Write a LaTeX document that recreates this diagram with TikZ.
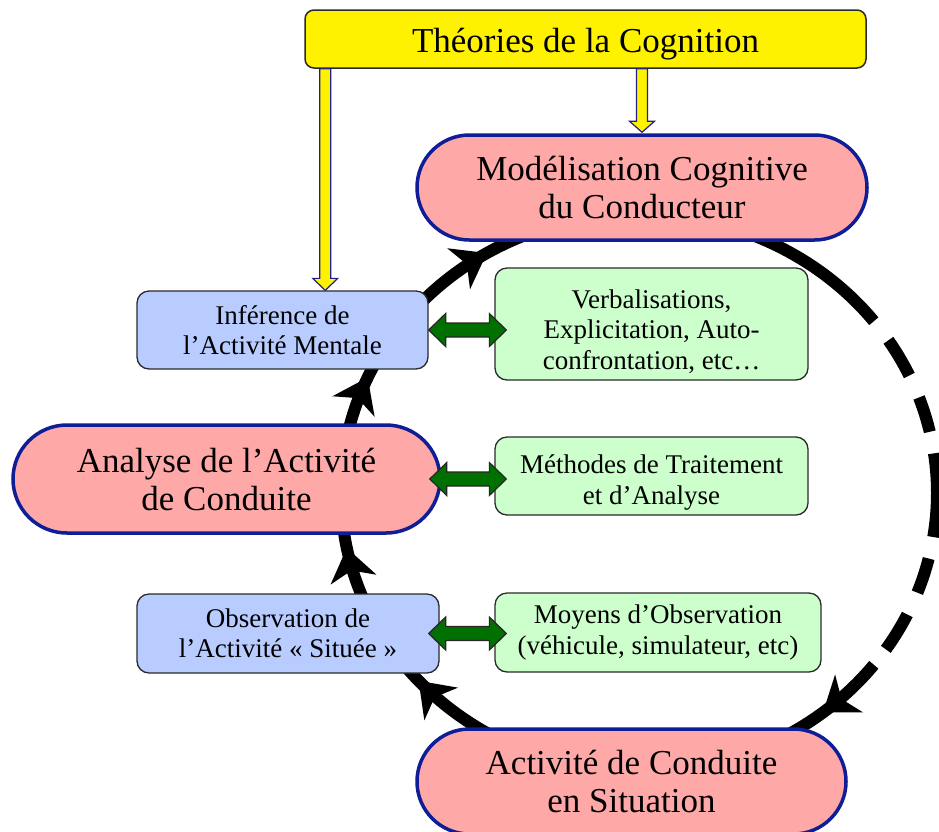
\documentclass[tikz,border=0pt]{standalone}
\usepackage{fontspec}
\setmainfont{Liberation Serif}
\usetikzlibrary{shapes.misc,arrows.meta,decorations.markings,calc}
\definecolor{pillfill}{HTML}{FFA8A8}
\definecolor{pillline}{HTML}{0F1E96}
\definecolor{bluefill}{HTML}{B8CCFF}
\definecolor{greenfill}{HTML}{CCFFCC}
\definecolor{boxline}{HTML}{2A2A2A}
\definecolor{darkgreen}{HTML}{007000}
\definecolor{yarrline}{HTML}{20208A}
\newcommand\greenlinkpath[3]{%
  \draw[garr] let \p1=(#1), \p2=(#2) in
    (\x1,\y1) -- (\x1+17pt,\y1+16.5pt) -- (\x1+17pt,\y1+7pt) --
    (\x2+#3-17pt,\y1+7pt) -- (\x2+#3-17pt,\y1+16.5pt) -- (\x2+#3,\y1) --
    (\x2+#3-17pt,\y1-16.5pt) -- (\x2+#3-17pt,\y1-7pt) --
    (\x1+17pt,\y1-7pt) -- (\x1+17pt,\y1-16.5pt) -- cycle;}
\begin{document}
\begin{tikzpicture}[x=1pt,y=1pt,
  bigtext/.style={font=\fontsize{35}{38}\selectfont},
  smalltext/.style={font=\fontsize{27}{30.5}\selectfont},
  pill/.style={rounded rectangle, draw=pillline, line width=3.5pt, fill=pillfill,
    align=center, inner sep=0pt, bigtext},
  bluebox/.style={rectangle, rounded corners=12pt, draw=boxline, line width=1.3pt,
    fill=bluefill, align=center, inner sep=0pt, smalltext},
  greenbox/.style={rectangle, rounded corners=12pt, draw=boxline, line width=1.3pt,
    fill=greenfill, align=center, inner sep=0pt, smalltext},
  theobox/.style={rectangle, rounded corners=9pt, draw=boxline, line width=1.5pt,
    fill=yellow, inner sep=0pt, bigtext, text height=30pt, text depth=4pt},
  cycleline/.style={line width=12pt, draw=black},
  yarr/.style={fill=yellow, draw=yarrline, line width=1.2pt, line join=miter},
  garr/.style={fill=darkgreen, draw=black!85, line width=1.2pt, line join=miter},
  cyctip/.tip={Stealth[length=32pt,width=46pt,inset=9pt]}
]
\useasboundingbox (0,0) rectangle (939,-831);
\fill[white] (0,0) rectangle (939,-831);

% cycle
\coordinate (cyc) at (639,-493);
\draw[cycleline, postaction={decorate}, decoration={markings,
    mark=at position 245pt with {\arrow{cyctip}},
    mark=at position 398pt with {\arrow{cyctip}},
    mark=at position 573pt with {\arrow{cyctip}},
    mark=at position 748pt with {\arrow{cyctip}}}]
  (cyc) ++(270:298 and 279) arc[start angle=270, end angle=90, x radius=298, y radius=279];
\draw[cycleline] (cyc) ++(90:298 and 279) arc[start angle=90, end angle=38, x radius=298, y radius=279];
\draw[cycleline, dash pattern=on 0pt off 24pt on 41pt off 24pt on 36pt off 22pt on 84pt off 22pt on 36pt off 24pt on 41pt off 24pt]
  (cyc) ++(38:298 and 279) arc[start angle=38, end angle=-38, x radius=298, y radius=279];
\draw[cycleline, postaction={decorate}, decoration={markings,
    mark=at position 70pt with {\arrow{cyctip}}}]
  (cyc) ++(-38:298 and 279) arc[start angle=-38, end angle=-90, x radius=298, y radius=279];

% nodes
\node[theobox, minimum width=561pt, minimum height=58pt] (theo) at (585.5,-39) {Théories de la Cognition};
\node[pill, minimum width=450pt, minimum height=105pt] (mod) at (642,-187.5) {Modélisation Cognitive\\du Conducteur};
\node[pill, minimum width=427pt, minimum height=108pt] (ana) at (226.5,-479) {Analyse de l’Activité\\de Conduite};
\node[pill, minimum width=429pt, minimum height=105pt] (act) at (631.5,-781.5) {Activité de Conduite\\en Situation};
\node[bluebox, minimum width=291pt, minimum height=78pt] (inf) at (282.5,-330) {Inférence de\\l’Activité Mentale};
\node[bluebox, minimum width=302pt, minimum height=79pt] (obs) at (288,-633.5) {Observation de\\l’Activité « Située »};
\node[greenbox, minimum width=313pt, minimum height=112pt] (verb) at (651.5,-324) {\rule{0pt}{34pt}Verbalisations,\\Explicitation, Auto-\\confrontation, etc…};
\node[greenbox, minimum width=313pt, minimum height=78pt] (meth) at (651.5,-476) {\rule{0pt}{32pt}Méthodes de Traitement\\et d’Analyse};
\node[greenbox, minimum width=326pt, minimum height=79pt] (moy) at (658,-632.5) {Moyens d’Observation\\(véhicule, simulateur, etc)};

% yellow arrows
\draw[yarr] let \p1=(theo.south west), \p2=(inf.north) in
  (\x1+15.5pt,\y1) -- (\x1+15.5pt,\y2+12pt) -- (\x1+8.5pt,\y2+12pt) -- (\x1+21pt,\y2) --
  (\x1+33.5pt,\y2+12pt) -- (\x1+26.5pt,\y2+12pt) -- (\x1+26.5pt,\y1) -- cycle;
\draw[yarr] let \p1=(theo.south), \p2=(mod.north) in
  (\x2-5.5pt,\y1) -- (\x2-5.5pt,\y2+12pt) -- (\x2-12.5pt,\y2+12pt) -- (\x2,\y2+1pt) --
  (\x2+12.5pt,\y2+12pt) -- (\x2+5.5pt,\y2+12pt) -- (\x2+5.5pt,\y1) -- cycle;

% green double arrows
\greenlinkpath{inf.east}{verb.west}{12pt}
\greenlinkpath{$(ana.east)+(-12pt,0)$}{meth.west}{12pt}
\greenlinkpath{$(obs.east)+(-11pt,0)$}{moy.west}{12pt}
\end{tikzpicture}
\end{document}
